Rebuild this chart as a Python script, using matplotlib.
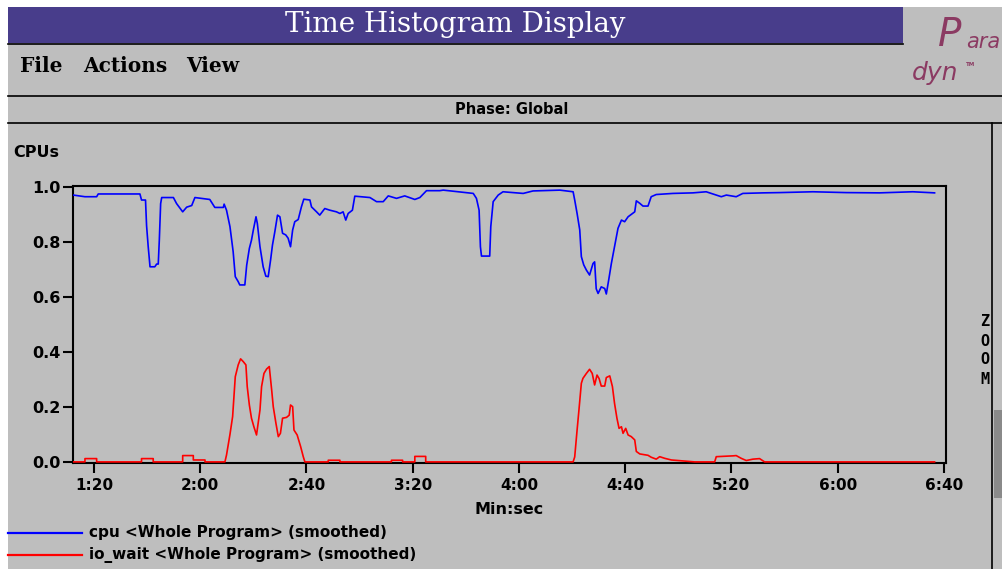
import matplotlib.pyplot as plt
from matplotlib.patches import Rectangle
from matplotlib.lines import Line2D

# values (seconds, CPUs)
cpu_t = [72.2, 76.6, 81.0, 81.6, 97.3, 97.9, 99.4, 99.8, 100.4, 101.1,
         102.9, 103.6, 104.2, 104.6, 105.1, 105.5, 109.9, 111.1, 113.4, 114.9,
         116.8, 118.0, 123.6, 125.5, 128.7, 129.0, 129.9, 131.2, 132.4, 133.2,
         134.3, 134.9, 136.8, 137.5, 138.5, 139.3, 140.0, 141.0, 141.5, 142.5,
         143.7, 144.7, 145.6, 146.5, 147.2, 148.1, 149.1, 150.0, 151.0, 152.2,
         153.1, 154.0, 154.8, 155.6, 156.9, 158.1, 159.0, 161.3, 161.9, 163.8,
         165.0, 166.9, 168.8, 171.3, 172.6, 173.8, 174.8, 175.7, 177.3, 178.2,
         183.9, 186.4, 188.9, 190.8, 193.9, 197.0, 200.8, 202.7, 205.2, 210.2,
         211.5, 217.1, 222.8, 224.0, 225.0, 225.5, 225.9, 229.0, 229.4, 230.3,
         232.2, 234.0, 241.6, 245.3, 255.4, 260.4, 261.0, 261.9, 262.9, 263.5,
         264.4, 265.4, 266.6, 267.9, 268.5, 269.1, 269.8, 271.0, 272.3, 272.9,
         273.8, 274.8, 276.0, 277.3, 278.6, 279.8, 281.1, 283.6, 284.2, 285.5,
         286.7, 288.6, 289.8, 291.7, 298.0, 305.5, 310.5, 314.3, 316.2, 318.1,
         321.8, 324.3, 331.9, 338.1, 350.7, 363.2, 375.8, 388.3, 396.5]
cpu_v = [.971, .965, .965, .975, .975, .953, .953, .86, .785, .71,
         .71, .72, .72, .807, .94, .962, .962, .94, .91, .927,
         .933, .962, .955, .926, .926, .938, .916, .856, .765, .674,
         .656, .644, .644, .716, .777, .807, .844, .892, .868, .783,
         .71, .676, .674, .735, .789, .838, .898, .892, .832, .826,
         .814, .783, .844, .874, .882, .928, .956, .953, .928, .91,
         .898, .922, .916, .91, .904, .91, .88, .904, .916, .967,
         .962, .947, .947, .968, .959, .968, .955, .962, .987, .987,
         .989, .983, .977, .959, .916, .783, .749, .749, .856, .947,
         .971, .983, .977, .986, .989, .983, .953, .904, .844, .747,
         .717, .698, .68, .722, .728, .63, .613, .637, .631, .611,
         .662, .722, .783, .85, .88, .874, .892, .91, .95, .941,
         .931, .931, .965, .973, .977, .979, .983, .971, .965, .971,
         .965, .977, .979, .98, .983, .98, .979, .983, .979]

io_t = [72.2, 76.6, 76.6, 81.0, 81.0, 97.9, 97.9, 102.3, 102.3, 113.4,
        113.4, 117.4, 117.4, 121.8, 121.8, 129.3, 129.9, 131.2, 132.2, 133.2,
        134.3, 135.2, 136.2, 137.2, 137.7, 138.5, 139.3, 140.2, 141.2, 141.8,
        142.5, 143.1, 144.0, 145.0, 146.0, 146.9, 147.5, 148.5, 149.4, 150.2,
        151.0, 152.5, 153.5, 154.0, 154.8, 155.3, 156.5, 157.8, 158.8, 159.4,
        168.2, 168.2, 172.6, 172.6, 192.0, 192.0, 196.2, 196.2, 200.8, 200.8,
        204.9, 204.9, 260.4, 261.0, 261.9, 262.6, 263.5, 264.1, 265.4, 266.6,
        267.6, 268.5, 269.4, 270.2, 271.0, 272.3, 272.9, 274.2, 275.2, 276.0,
        276.9, 277.7, 278.6, 279.2, 280.2, 281.1, 282.3, 283.6, 284.2, 285.5,
        288.6, 289.8, 291.7, 293.0, 294.9, 297.4, 306.2, 313.7, 314.3, 320.6,
        321.8, 323.7, 325.6, 328.1, 330.6, 332.5, 396.5]
io_v = [0, 0, .012, .012, 0, 0, .012, .012, 0, 0,
        .023, .023, .007, .007, 0, 0, .025, .1, .165, .31,
        .353, .375, .365, .353, .274, .207, .159, .128, .098, .14,
        .189, .274, .322, .338, .347, .262, .201, .141, .092, .104,
        .159, .162, .17, .207, .201, .116, .098, .056, .019, 0,
        0, .006, .006, 0, 0, .006, .006, 0, 0, .02,
        .02, 0, 0, .018, .116, .189, .286, .304, .322, .337,
        .322, .28, .316, .303, .276, .276, .307, .313, .274, .213,
        .159, .122, .128, .104, .122, .098, .092, .08, .038, .029,
        .024, .017, .01, .019, .013, .007, 0, 0, .019, .022,
        .023, .013, .005, .01, .012, 0, 0]

x_ticks = [80, 120, 160, 200, 240, 280, 320, 360, 400]
x_labels = ['1:20', '2:00', '2:40', '3:20', '4:00', '4:40', '5:20', '6:00', '6:40']
y_ticks = [0.0, 0.2, 0.4, 0.6, 0.8, 1.0]
series_names = ['cpu <Whole Program> (smoothed)', 'io_wait <Whole Program> (smoothed)']
series_colors = ['#0000ff', '#ff0000']

W, H = 1003, 569
GRAY = '#bebebe'

def fx(x):
    return x / W

def fy(y):
    return 1 - y / H

plt.rcParams['font.family'] = 'DejaVu Sans'
plt.rcParams['font.weight'] = 'bold'

fig = plt.figure(figsize=(W / 100, H / 100), dpi=100, facecolor='white')

# window frame
fig.add_artist(Rectangle((fx(8), 0), 1 - fx(8), fy(7), transform=fig.transFigure,
                         facecolor=GRAY, edgecolor='none', zorder=0))
fig.add_artist(Rectangle((fx(8), fy(43)), fx(903) - fx(8), fy(7) - fy(43),
                         transform=fig.transFigure, facecolor='#483d8b',
                         edgecolor='none', zorder=1))
for (x0, y0, x1, y1) in [(8, 43.5, 903, 43.5), (8, 96.5, 1003, 96.5),
                         (8, 123, 1003, 123), (992, 123, 992, 569)]:
    fig.add_artist(Line2D([fx(x0), fx(x1)], [fy(y0), fy(y1)], transform=fig.transFigure,
                          color='black', lw=1.2, zorder=2))
fig.add_artist(Rectangle((fx(994), fy(498)), fx(1003) - fx(994), fy(410) - fy(498),
                         transform=fig.transFigure, facecolor='#8a8a8a',
                         edgecolor='none', zorder=1))

fig.text(fx(455), fy(25), 'Time Histogram Display', color='white', family='DejaVu Serif',
         fontweight='normal', fontsize=20, ha='center', va='center')
for word, x in [('File', 20), ('Actions', 83), ('View', 186)]:
    fig.text(fx(x), fy(72), word, family='DejaVu Serif', fontsize=14.5,
             ha='left', va='baseline')
fig.text(fx(512), fy(109), 'Phase: Global', fontsize=10.5, ha='center', va='center')
fig.text(fx(13), fy(157), 'CPUs', fontsize=11.5, ha='left', va='baseline')
for i, ch in enumerate('ZOOM'):
    fig.text(fx(985), fy(322 + i * 19), ch, fontsize=11, ha='center', va='center',
             family='DejaVu Sans Mono')

# Paradyn logo
logo = '#8b3a62'
fig.text(fx(938), fy(46), 'P', color=logo, fontsize=28, style='italic',
         fontweight='normal', ha='left', va='baseline')
fig.text(fx(966), fy(48), 'ara', color=logo, fontsize=15, style='italic',
         fontweight='normal', ha='left', va='baseline')
fig.text(fx(912), fy(80), 'dyn', color=logo, fontsize=18, style='italic',
         fontweight='normal', ha='left', va='baseline')
fig.text(fx(966), fy(66), 'TM', color=logo, fontsize=4, ha='left', va='baseline')

# plot area
ax = fig.add_axes([fx(73), fy(463), fx(946) - fx(73), fy(186) - fy(463)])
ax.set_facecolor(GRAY)
lines = []
for t, v, c in [(cpu_t, cpu_v, series_colors[0]), (io_t, io_v, series_colors[1])]:
    ln, = ax.plot(t, v, color=c, lw=1.2, zorder=3)
    lines.append(ln)

ax.set_xlim(72.1, 400.8)
ax.set_ylim(-0.004, 1.004)
ax.set_xticks(x_ticks)
ax.set_xticklabels(x_labels)
ax.set_yticks(y_ticks)
ax.set_yticklabels(['%.1f' % y for y in y_ticks])
ax.tick_params(axis='y', length=7, width=1.5, pad=2, labelsize=11.5)
ax.tick_params(axis='x', length=7, width=1.5, pad=3.5, labelsize=11)
for s in ax.spines.values():
    s.set_linewidth(1.5)
ax.set_xlabel('Min:sec', fontsize=11.5, fontweight='bold', labelpad=7)

# legend rows below the plot
for i, (name, ln) in enumerate(zip(series_names, lines)):
    y = 533 + i * 22
    fig.add_artist(Line2D([fx(8), fx(82)], [fy(y), fy(y)], transform=fig.transFigure,
                          color=ln.get_color(), lw=1.6))
    fig.text(fx(89), fy(y), name, fontsize=11, ha='left', va='center')

fig.savefig('out.png', dpi=100, facecolor=fig.get_facecolor())
